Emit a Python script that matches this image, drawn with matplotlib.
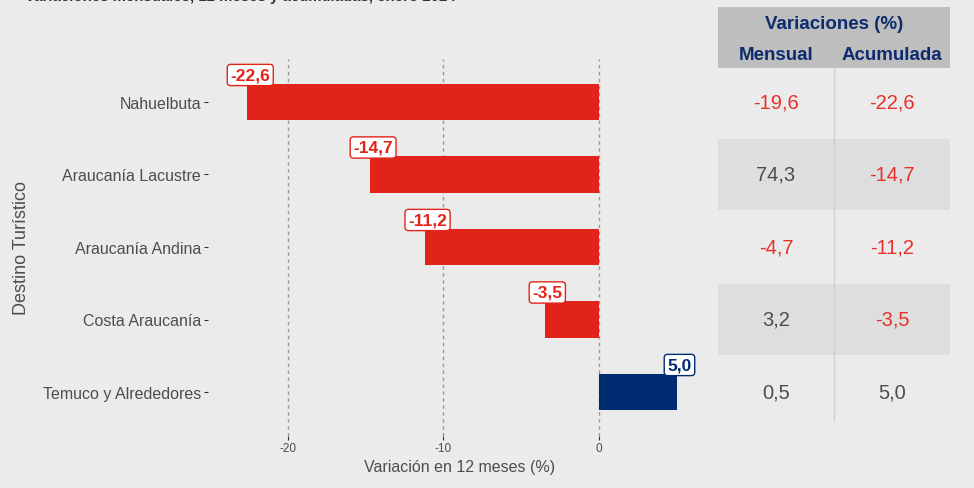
import matplotlib
matplotlib.use("Agg")
import matplotlib.pyplot as plt
from matplotlib.patches import Rectangle

# datos
destinos = ["Nahuelbuta", "Araucanía Lacustre", "Araucanía Andina",
            "Costa Araucanía", "Temuco y Alrededores"]
var_12m = [-22.6, -14.7, -11.2, -3.5, 5.0]
var_mensual = [-19.6, 74.3, -4.7, 3.2, 0.5]
var_acum = [-22.6, -14.7, -11.2, -3.5, 5.0]
col_headers = ["Mensual", "Acumulada"]
xticks = [-20, -10, 0]

ROJO = "#E2231A"
AZUL = "#002D72"
ROJO_TXT = "#E8302A"
GRIS_TXT = "#4D4D4D"
FONDO = "#EBEBEB"

plt.rcParams["font.family"] = ["Liberation Sans", "DejaVu Sans"]

def fmt(v):
    return f"{v:.1f}".replace(".", ",")

W, H = 974, 489
fig = plt.figure(figsize=(W / 100, H / 100), dpi=100, facecolor=FONDO)

# panel principal
ax = fig.add_axes([208 / W, 1 - 436.5 / H, (712 - 208) / W, 377 / H])
ax.set_facecolor(FONDO)
pos = list(range(len(destinos)))
colores = [ROJO if v < 0 else AZUL for v in var_12m]
ax.barh(pos, var_12m, height=0.5, color=colores, zorder=2)
ax.set_xlim(-25.14, 7.27)
ax.set_ylim(4.6, -0.6)
ax.set_xticks(xticks)
ax.set_xticklabels([str(t) for t in xticks], fontsize=8.5, color=GRIS_TXT)
ax.set_yticks(pos)
ax.set_yticklabels(destinos, fontsize=11.5, color=GRIS_TXT)
ax.tick_params(axis="both", length=3, width=0.8, color="#333333", pad=2)
ax.grid(axis="x", linestyle=(0, (2.5, 2.5)), color="#999999", linewidth=1, zorder=1)
for s in ax.spines.values():
    s.set_visible(False)
ax.set_xlabel("Variación en 12 meses (%)", fontsize=11.5, color=GRIS_TXT, labelpad=3)
ax.set_ylabel("Destino Turístico", fontsize=13, color=GRIS_TXT)
ax.yaxis.set_label_coords(-(208 - 30) / (712 - 208), 0.5)

for i, v in enumerate(var_12m):
    c = ROJO if v < 0 else AZUL
    ax.annotate(fmt(v), xy=(v, i - 0.25), xytext=(2, 1), textcoords="offset points",
                ha="center", va="bottom", fontsize=12.5, fontweight="bold", color=c,
                zorder=4,
                bbox=dict(boxstyle="round,pad=0.18,rounding_size=0.2", fc="white",
                          ec=c, lw=1))

# tabla a la derecha
tx = fig.add_axes([718 / W, 1 - 436.5 / H, 232 / W, 377 / H])
tx.set_xlim(0, 2)
tx.set_ylim(4.6, -0.6)
tx.axis("off")

# encabezado
tx.add_patch(Rectangle((0, -1.31), 2, 0.84, facecolor="#BEBEBE", edgecolor="none",
                       clip_on=False))
tx.text(1, -1.08, "Variaciones (%)", ha="center", va="center", fontsize=13.5,
        fontweight="bold", color="#0C2C6E", clip_on=False)
for j, h in enumerate(col_headers):
    tx.text(j + 0.5, -0.66, h, ha="center", va="center", fontsize=13.5,
            fontweight="bold", color="#0C2C6E", clip_on=False)

# filas
for i in pos:
    if i % 2 == 1:
        tx.add_patch(Rectangle((0, i - 0.49), 2, 0.98, facecolor="#DEDEDE",
                               edgecolor="none"))
    for j, v in enumerate([var_mensual[i], var_acum[i]]):
        tx.text(j + 0.5, i, fmt(v), ha="center", va="center", fontsize=14.5,
                color=ROJO_TXT if v < 0 else GRIS_TXT)
tx.plot([1, 1], [-0.47, 4.4], color="#D0D0D0", linewidth=1)

# titulo (cortado en el borde superior)
fig.text(25 / W, 1 - 1.5 / H, "Variaciones mensuales, 12 meses y acumuladas, enero 2024",
         ha="left", va="baseline", fontsize=10.8, fontweight="bold", color="#333333")

fig.savefig("out.png", dpi=100, facecolor=FONDO)
